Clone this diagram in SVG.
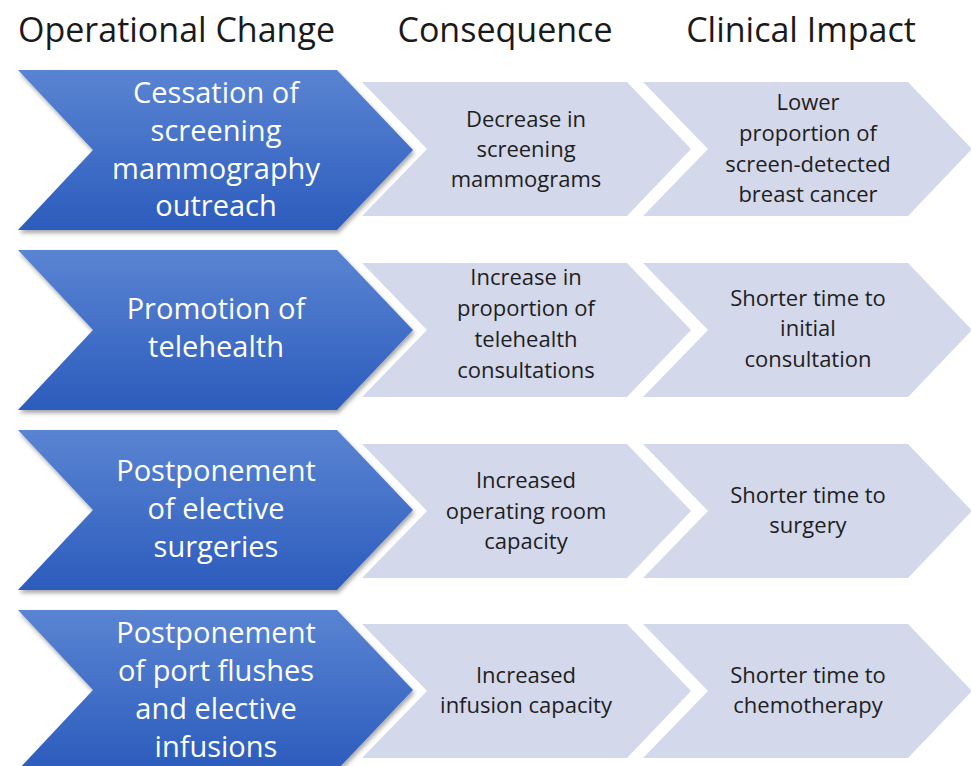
<svg xmlns="http://www.w3.org/2000/svg" width="971" height="766" viewBox="0 0 971 766">
<defs>
<linearGradient id="blueGrad" x1="0" y1="0" x2="0" y2="1">
<stop offset="0" stop-color="#5a84d2"/>
<stop offset="1" stop-color="#2c5cbd"/>
</linearGradient>
<filter id="shadow" x="-10%" y="-10%" width="120%" height="130%">
<feDropShadow dx="1.5" dy="3" stdDeviation="2" flood-color="#000" flood-opacity="0.35"/>
</filter>
<path id="blueShape" d="M0,-80 L319,-80 L395,0 L319,80 L0,80 L75,0 Z"/>
<path id="lightShape" d="M0,-67 L265,-67 L329,0 L265,67 L0,67 L65,0 Z"/>
</defs>
<style>
.hdr{font-family:"Open Sans",Lato,"Liberation Sans",sans-serif;font-size:34px;fill:#1a1a1a}
.blue{fill:url(#blueGrad);filter:url(#shadow)}
.light{fill:#d3d8eb}
.bt{font-family:"Open Sans",Lato,"Liberation Sans",sans-serif;font-size:29px;fill:#ffffff;text-anchor:middle}
.lt{font-family:"Open Sans",Lato,"Liberation Sans",sans-serif;font-size:22px;fill:#1e1e1e;text-anchor:middle}
</style>
<rect width="971" height="766" fill="#ffffff"/>
<g id="headers">
<text class="hdr" x="18" y="42">Operational Change</text>
<text class="hdr" x="505" y="42" text-anchor="middle">Consequence</text>
<text class="hdr" x="801" y="42" text-anchor="middle">Clinical Impact</text>
</g>
<g id="connectors"></g>
<!-- Row 1 -->
<g id="r1c3"><use href="#lightShape" class="light" x="643" y="149"/>
<text class="lt"><tspan x="808" y="110">Lower</tspan><tspan x="808" y="141">proportion of</tspan><tspan x="808" y="172">screen-detected</tspan><tspan x="808" y="202">breast cancer</tspan></text></g>
<g id="r1c2"><use href="#lightShape" class="light" x="362" y="149"/>
<text class="lt"><tspan x="526" y="127">Decrease in</tspan><tspan x="526" y="157">screening</tspan><tspan x="526" y="187">mammograms</tspan></text></g>
<g id="r1c1"><use href="#blueShape" class="blue" x="18" y="150"/>
<text class="bt"><tspan x="216" y="103">Cessation of</tspan><tspan x="216" y="141">screening</tspan><tspan x="216" y="179">mammography</tspan><tspan x="216" y="216">outreach</tspan></text></g>
<!-- Row 2 -->
<g id="r2c3"><use href="#lightShape" class="light" x="643" y="330"/>
<text class="lt"><tspan x="808" y="306">Shorter time to</tspan><tspan x="808" y="336">initial</tspan><tspan x="808" y="367">consultation</tspan></text></g>
<g id="r2c2"><use href="#lightShape" class="light" x="362" y="330"/>
<text class="lt"><tspan x="526" y="285">Increase in</tspan><tspan x="526" y="316">proportion of</tspan><tspan x="526" y="347">telehealth</tspan><tspan x="526" y="378">consultations</tspan></text></g>
<g id="r2c1"><use href="#blueShape" class="blue" x="18" y="330"/>
<text class="bt"><tspan x="216" y="319">Promotion of</tspan><tspan x="216" y="357">telehealth</tspan></text></g>
<!-- Row 3 -->
<g id="r3c3"><use href="#lightShape" class="light" x="643" y="511"/>
<text class="lt"><tspan x="808" y="503">Shorter time to</tspan><tspan x="808" y="533">surgery</tspan></text></g>
<g id="r3c2"><use href="#lightShape" class="light" x="362" y="511"/>
<text class="lt"><tspan x="526" y="488">Increased</tspan><tspan x="526" y="519">operating room</tspan><tspan x="526" y="549">capacity</tspan></text></g>
<g id="r3c1"><use href="#blueShape" class="blue" x="18" y="510"/>
<text class="bt"><tspan x="216" y="481">Postponement</tspan><tspan x="216" y="519">of elective</tspan><tspan x="216" y="557">surgeries</tspan></text></g>
<!-- Row 4 -->
<g id="r4c3"><use href="#lightShape" class="light" x="643" y="691"/>
<text class="lt"><tspan x="808" y="683">Shorter time to</tspan><tspan x="808" y="713">chemotherapy</tspan></text></g>
<g id="r4c2"><use href="#lightShape" class="light" x="362" y="691"/>
<text class="lt"><tspan x="526" y="683">Increased</tspan><tspan x="526" y="713">infusion capacity</tspan></text></g>
<g id="r4c1"><use href="#blueShape" class="blue" x="18" y="690"/>
<text class="bt"><tspan x="216" y="643">Postponement</tspan><tspan x="216" y="681">of port flushes</tspan><tspan x="216" y="719">and elective</tspan><tspan x="216" y="757">infusions</tspan></text></g>
</svg>
